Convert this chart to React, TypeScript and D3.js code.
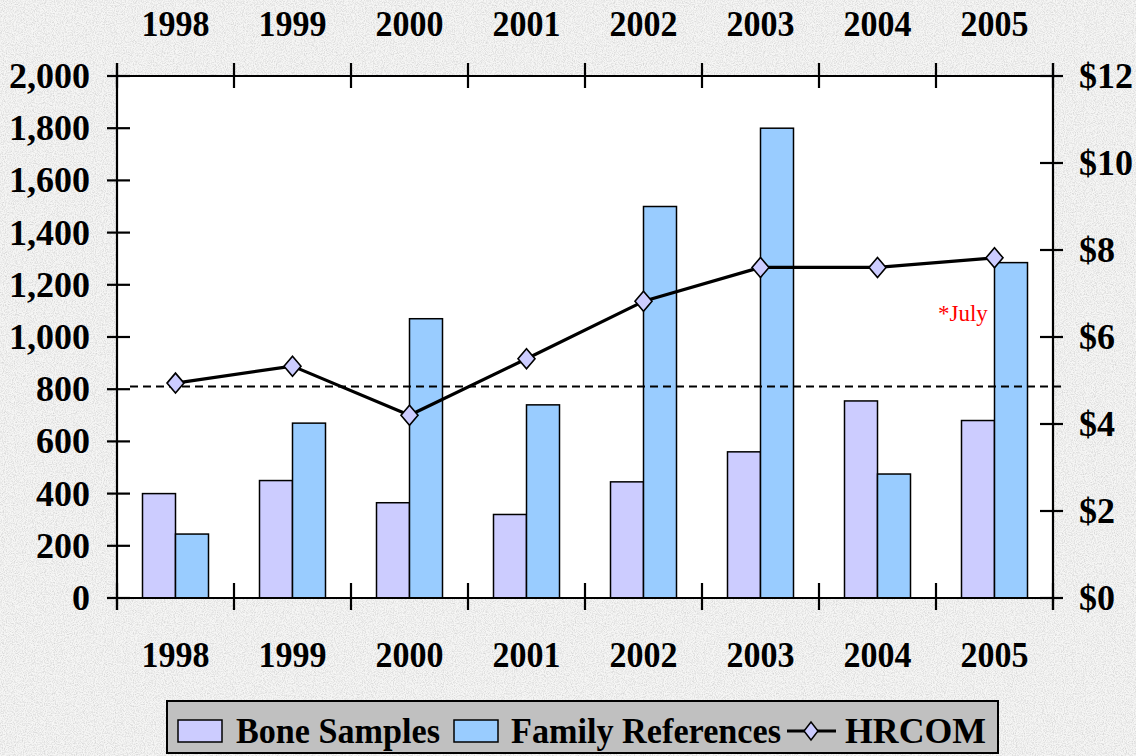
import React, { useEffect } from "react";
import * as d3 from "d3";

// chart data
const years = ["1998", "1999", "2000", "2001", "2002", "2003", "2004", "2005"];
const boneSamples = [400, 450, 365, 320, 445, 560, 755, 680];
const familyReferences = [245, 670, 1070, 740, 1500, 1800, 475, 1285];
const hrcom = [4.94, 5.33, 4.2, 5.5, 6.82, 7.6, 7.6, 7.82];
const referenceLevel = 810;
const dollarTicks = [0, 2, 4, 6, 8, 10, 12];

const W = 1136, H = 756;
const plot = { left: 117, right: 1053, top: 76, bottom: 598 };
const font = "'Liberation Serif', 'Times New Roman', serif";

export default function App() {
  useEffect(() => {
    document.body.style.margin = "0";
  }, []);

  const x = d3.scaleBand<string>().domain(years).range([plot.left, plot.right]).padding(0);
  const y = d3.scaleLinear().domain([0, 2000]).range([plot.bottom, plot.top]);
  const yR = d3.scaleLinear().domain([0, 12]).range([plot.bottom, plot.top]);
  const barW = 33;
  const center = (yr: string) => (x(yr) as number) + x.bandwidth() / 2;

  const line = d3.line<number>()
    .x((_, i) => center(years[i]))
    .y(d => yR(d));

  const diamond = (cx: number, cy: number, hw: number, hh: number) =>
    `M${cx},${cy - hh}L${cx + hw},${cy}L${cx},${cy + hh}L${cx - hw},${cy}Z`;

  const boundaries = years.map(yr => x(yr) as number).concat([plot.right]);
  const fmt = d3.format(",");

  return (
    <svg width={W} height={H} style={{ display: "block" }} fontFamily={font}>
      <defs>
        <filter id="grain" x="0" y="0" width="100%" height="100%">
          <feTurbulence type="fractalNoise" baseFrequency="0.9" numOctaves={3} seed={4} />
          <feColorMatrix type="matrix"
            values="0 0 0 0 0.6  0 0 0 0 0.6  0 0 0 0 0.6  1.6 0 0 0 -0.62" />
        </filter>
      </defs>

      {/* textured background */}
      <rect x={0} y={0} width={W} height={H} fill="#f6f6f5" />
      <rect x={0} y={0} width={W} height={H} filter="url(#grain)" />

      {/* plot area */}
      <rect x={plot.left} y={plot.top} width={plot.right - plot.left} height={plot.bottom - plot.top} fill="#ffffff" />

      {/* bars */}
      {years.map((yr, i) => (
        <g key={yr} stroke="#000" strokeWidth={1.5}>
          <rect x={center(yr) - barW} y={y(boneSamples[i])} width={barW}
            height={plot.bottom - y(boneSamples[i])} fill="#ccccff" />
          <rect x={center(yr)} y={y(familyReferences[i])} width={barW}
            height={plot.bottom - y(familyReferences[i])} fill="#99ccff" />
        </g>
      ))}

      {/* dashed reference line */}
      <line x1={130} x2={1062} y1={y(referenceLevel)} y2={y(referenceLevel)}
        stroke="#000" strokeWidth={2} strokeDasharray="8,5" />

      {/* HRCOM line */}
      <path d={line(hrcom) || ""} fill="none" stroke="#000" strokeWidth={3.2} strokeLinejoin="round" />
      {hrcom.map((v, i) => (
        <path key={i} d={diamond(center(years[i]), yR(v), 8.5, 10)}
          fill="#ccccff" stroke="#000" strokeWidth={1.6} />
      ))}

      <text x={938} y={321} fill="#ff0000" fontSize={23}>*July</text>

      {/* axes frame */}
      <g stroke="#000" strokeWidth={2.2} fill="none">
        <line x1={107} x2={1063} y1={plot.top} y2={plot.top} />
        <line x1={107} x2={1063} y1={plot.bottom} y2={plot.bottom} />
        <line x1={plot.left} x2={plot.left} y1={63} y2={610} />
        <line x1={plot.right} x2={plot.right} y1={63} y2={610} />
        {boundaries.map((b, i) => (
          <g key={i}>
            <line x1={b} x2={b} y1={63} y2={88} />
            <line x1={b} x2={b} y1={583} y2={610} />
          </g>
        ))}
        {y.ticks(10).map(t => (
          <line key={t} x1={107} x2={130} y1={y(t)} y2={y(t)} />
        ))}
        {dollarTicks.map(t => (
          <line key={t} x1={1040} x2={1063} y1={yR(t)} y2={yR(t)} />
        ))}
      </g>

      {/* labels */}
      <g fontWeight="bold" fontSize={36} fill="#000">
        {years.map(yr => (
          <g key={yr}>
            <text x={center(yr)} y={36} textAnchor="middle" textLength={68} lengthAdjust="spacingAndGlyphs">{yr}</text>
            <text x={center(yr)} y={667} textAnchor="middle" textLength={68} lengthAdjust="spacingAndGlyphs">{yr}</text>
          </g>
        ))}
        {y.ticks(10).map(t => (
          <text key={t} x={90} y={y(t) + 12} textAnchor="end">{fmt(t)}</text>
        ))}
        {dollarTicks.map(t => (
          <text key={t} x={1079} y={yR(t) + 12}>{"$" + t}</text>
        ))}
      </g>

      {/* legend */}
      <g>
        <rect x={167} y={701} width={831} height={52} fill="#c0c0c0" stroke="#000" strokeWidth={2} />
        <rect x={178} y={720} width={44} height={22} fill="#ccccff" stroke="#000" strokeWidth={1.5} />
        <rect x={454} y={720} width={44} height={22} fill="#99ccff" stroke="#000" strokeWidth={1.5} />
        <line x1={787} x2={836} y1={731} y2={731} stroke="#000" strokeWidth={3} />
        <path d={diamond(811, 731, 7, 9)} fill="#ccccff" stroke="#000" strokeWidth={1.5} />
        <g fontWeight="bold" fontSize={36} fill="#000">
          <text x={236} y={743} textLength={204} lengthAdjust="spacingAndGlyphs">Bone Samples</text>
          <text x={511} y={743} textLength={270} lengthAdjust="spacingAndGlyphs">Family References</text>
          <text x={845} y={743} textLength={141} lengthAdjust="spacingAndGlyphs">HRCOM</text>
        </g>
      </g>
    </svg>
  );
}
